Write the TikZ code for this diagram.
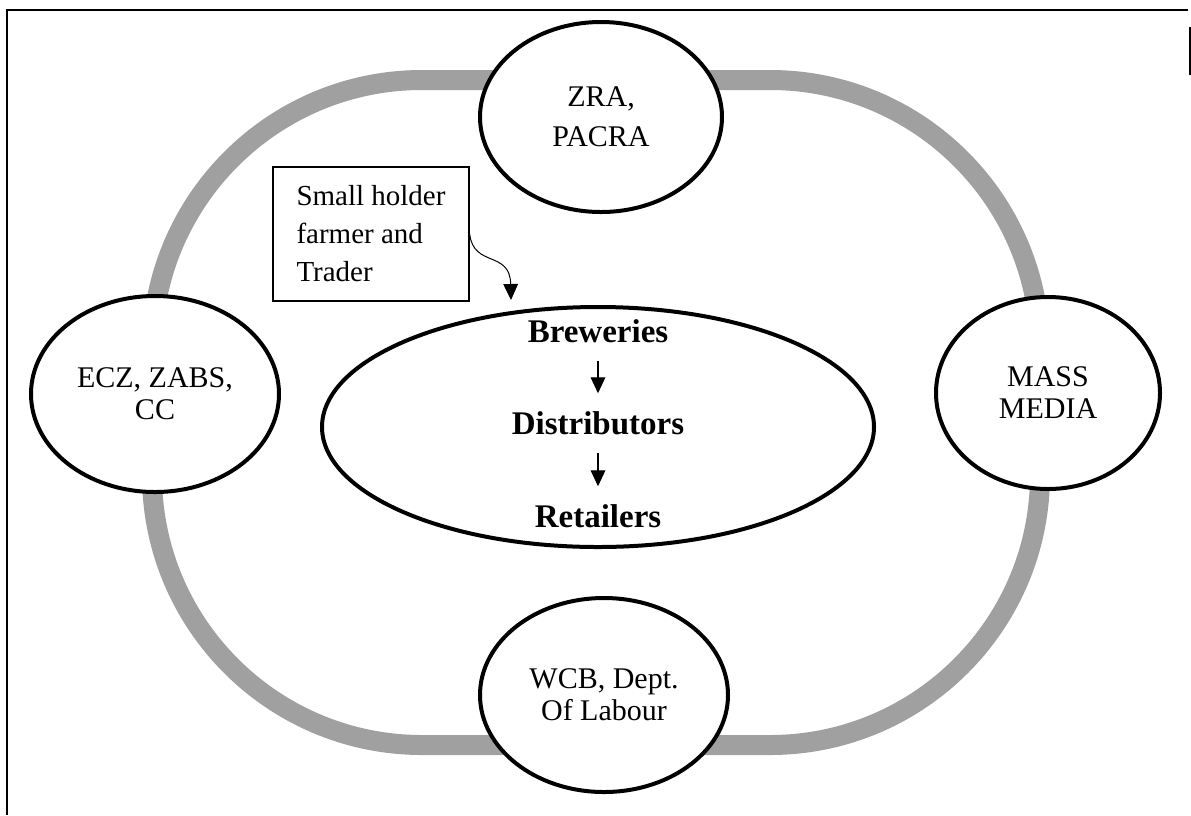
\documentclass[tikz,border=0pt]{standalone}
\usepackage{fontspec}
\setmainfont{Liberation Serif}
\usepackage{tikz}
\tikzset{every picture/.style={line width=0.75pt}}
\usetikzlibrary{shapes}
\usetikzlibrary{arrows.meta}
\definecolor{ringgray}{RGB}{160,160,160}
\tikzset{
  oval/.style={draw, ellipse, line width=3pt, fill=white, align=center, inner sep=0pt,
    font=\fontsize{22.5}{24}\selectfont},
  ring/.style={draw=ringgray, line width=15pt, rounded corners=202.5pt},
  stage/.style={anchor=base, inner sep=0pt, font=\bfseries\fontsize{24.75}{28}\selectfont},
  holder/.style={draw, line width=1pt, align=left, minimum width=147pt, minimum height=100.5pt,
    font=\fontsize{21.75}{28.5}\selectfont},
  tip/.style={-{Triangle[length=12pt,width=11pt]}, line width=0.9pt},
  flow/.style={tip, shorten <=13.5pt, shorten >=13pt},
}

\begin{document}
\begin{tikzpicture}[x=0.75pt,y=0.75pt,yscale=-1,xscale=1]
\useasboundingbox (0,0) rectangle (1191,815);

%Straight Lines
\draw [line width=1.5pt]  (6,10) -- (1188,10) ;
%Straight Lines
\draw [line width=1.5pt]  (7,10) -- (7,815) ;
%Straight Lines
\draw [line width=1pt]  (1190,27) -- (1190,75) ;

%Shape: Rounded Rect
\draw [ring]  (152,80) rectangle (1040,745) ;

%Shape: Ellipse
\node [oval, minimum width=181.5pt, minimum height=142.5pt, font=\fontsize{22.5}{30}\selectfont] (zra) at (601,117) {ZRA,\\PACRA};
%Shape: Ellipse
\node [oval, minimum width=186pt, minimum height=147pt] (ecz) at (155,394) {ECZ, ZABS,\\CC};
%Shape: Ellipse
\node [oval, minimum width=168pt, minimum height=144pt] (media) at (1048,393) {MASS\\MEDIA};
%Shape: Ellipse
\node [oval, minimum width=186pt, minimum height=145.5pt] (wcb) at (604,695) {WCB, Dept.\\Of Labour};
%Shape: Ellipse
\node [oval, minimum width=414pt, minimum height=180pt] (core) at (598,427) {};

% Text Node
\node [stage] (brew) at (598,342) {Breweries};
% Text Node
\node [stage] (dist) at (598,434) {Distributors};
% Text Node
\node [stage] (ret) at (598,527) {Retailers};

%Straight Lines
\draw [flow]  (brew) -- (dist) ;
%Straight Lines
\draw [flow]  (dist) -- (ret) ;

% Text Node
\node [holder] (farmer) at (371,234) {Small holder\\farmer and\\Trader};
\coordinate (drop) at (511,300);
%Curve Lines
\draw [tip, line width=0.75pt]  (farmer.east) .. controls +(4,34) and +(-1,-50) .. (drop) ;
\end{tikzpicture}
\end{document}
